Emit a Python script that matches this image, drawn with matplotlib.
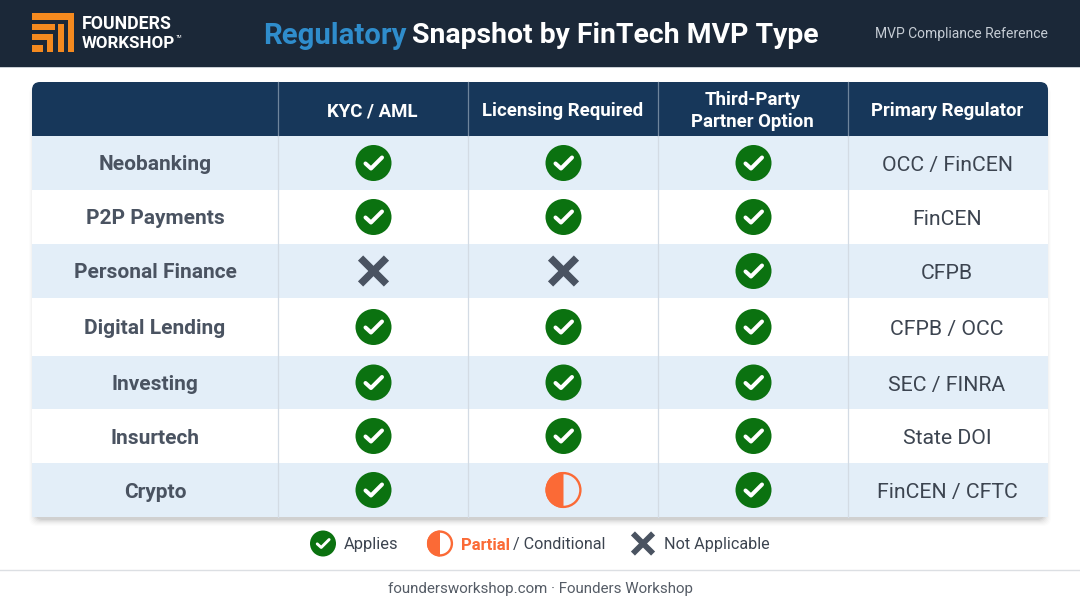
import matplotlib
matplotlib.use("Agg")
import matplotlib.pyplot as plt
from matplotlib.patches import Rectangle, FancyBboxPatch, Circle, Wedge
from matplotlib.lines import Line2D

plt.rcParams['font.family'] = ['Roboto', 'DejaVu Sans']

# ---- data ----
columns = ["KYC / AML", "Licensing Required", "Third-Party\nPartner Option", "Primary Regulator"]
categories = ["Neobanking", "P2P Payments", "Personal Finance", "Digital Lending", "Investing", "Insurtech", "Crypto"]
kyc_status = ["yes", "yes", "no", "yes", "yes", "yes", "yes"]
licensing_status = ["yes", "yes", "no", "yes", "yes", "yes", "partial"]
partner_status = ["yes", "yes", "yes", "yes", "yes", "yes", "yes"]
regulators = ["OCC / FinCEN", "FinCEN", "CFPB", "CFPB / OCC", "SEC / FINRA", "State DOI", "FinCEN / CFTC"]

# ---- layout ----
W, H = 1080, 603
col_edges = [32, 278, 468, 658, 848, 1048]
row_edges = [136, 190, 244, 298, 356, 409, 463, 517]
head_top = 82

NAVY = "#1b2838"
HEAD = "#17375a"
BAND = "#e3eef8"
GREEN = "#0b7210"
ORANGE = "#fb6a36"
GREY = "#4a5361"
LABEL = "#4a5361"
TEXT = "#3c4450"
ORG_LOGO = "#f58a1f"

fig = plt.figure(figsize=(W / 100, H / 100), dpi=100, facecolor="white")
ax = fig.add_axes([0, 0, 1, 1])
ax.set_xlim(0, W)
ax.set_ylim(H, 0)
ax.axis("off")


def rect(x0, y0, x1, y1, color, z=1, **kw):
    ax.add_patch(Rectangle((x0, y0), x1 - x0, y1 - y0, facecolor=color, edgecolor="none", zorder=z, **kw))


def check(cx, cy, r):
    ax.add_patch(Circle((cx, cy), r, facecolor=GREEN, edgecolor="none", zorder=5))
    s = r / 18
    ax.add_line(Line2D([cx - 8 * s, cx - 2.5 * s, cx + 8.5 * s], [cy + 0.5 * s, cy + 5.5 * s, cy - 5.5 * s],
                       color="white", lw=2.9 * s, solid_capstyle="round", solid_joinstyle="round", zorder=6))


def partial(cx, cy, r):
    ax.add_patch(Circle((cx, cy), r - 1.1, facecolor="none", edgecolor=ORANGE, lw=1.7, zorder=5))
    ax.add_patch(Wedge((cx, cy), r, 90, 270, facecolor=ORANGE, edgecolor="none", zorder=5))


def cross(cx, cy, r):
    d = r * 0.72
    for sgn in (1, -1):
        ax.add_line(Line2D([cx - d, cx + d], [cy - sgn * d, cy + sgn * d], color=GREY, lw=4.6 * r / 18 * 1.15,
                           solid_capstyle="butt", zorder=5))


MARK = {"yes": check, "partial": partial, "no": cross}

# ---- top banner ----
rect(0, 0, W, 67, NAVY, z=1)
rect(0, 67, W, 68, "#c9ced4", z=1)

# logo
logo = [(32, 13, 74, 20), (32, 24, 55, 30), (32, 34, 49, 40), (32, 45, 43, 52),
        (58, 24, 64, 52), (68, 19, 74, 52), (49, 24, 55, 30),
        (47, 34, 53, 52)]
for x0, y0, x1, y1 in logo:
    rect(x0, y0, x1, y1, ORG_LOGO, z=2)
ax.text(82, 24, "FOUNDERS", color="white", fontsize=12.8, fontweight="bold", va="center", ha="left", zorder=3)
ax.text(82, 44, "WORKSHOP", color="white", fontsize=12.2, fontweight="bold", va="center", ha="left", zorder=3)
ax.text(176, 37, "TM", color="white", fontsize=3.2, va="center", ha="left", zorder=3)

ax.text(263, 35.5, "Regulatory", color="#2f8dcc", fontsize=21.2, fontweight="bold", va="center", ha="left", zorder=3)
ax.text(412, 35.5, "Snapshot by FinTech MVP Type", color="white", fontsize=20.4, fontweight="bold", va="center", ha="left", zorder=3)
ax.text(961, 34, "MVP Compliance Reference", color="#c5ccd4", fontsize=10, va="center", ha="center", zorder=3)

# ---- shadow ----
for i, a in zip(range(7, 0, -1), [0.012, 0.016, 0.02, 0.025, 0.03, 0.04, 0.05]):
    ax.add_patch(FancyBboxPatch((col_edges[0] - i + 4, head_top + 4), col_edges[-1] - col_edges[0] + 2 * i - 8,
                                row_edges[-1] - head_top + i - 2,
                                boxstyle="round,pad=0,rounding_size=8", facecolor="black", edgecolor="none",
                                alpha=a, zorder=1))

# ---- table body ----
x0, x1 = col_edges[0], col_edges[-1]
for i in range(len(categories)):
    rect(x0, row_edges[i], x1, row_edges[i + 1], BAND if i % 2 == 0 else "white", z=2)

# header
ax.add_patch(FancyBboxPatch((x0, head_top), x1 - x0, 30, boxstyle="round,pad=0,rounding_size=8",
                            facecolor=HEAD, edgecolor="none", zorder=3))
rect(x0, head_top + 12, x1, row_edges[0], HEAD, z=3)

# grid
for x in col_edges[1:-1]:
    ax.add_line(Line2D([x, x], [head_top, row_edges[0]], color="#6f859c", lw=0.9, zorder=4))
    ax.add_line(Line2D([x, x], [row_edges[0], row_edges[-1]], color="#d3dbe4", lw=0.9, zorder=4))

# header text
centers = [(col_edges[i] + col_edges[i + 1]) / 2 for i in range(len(col_edges) - 1)]
for j, label in enumerate(columns):
    ax.text(centers[j + 1] - 0.5, (head_top + row_edges[0]) / 2 + 2, label, color="white", fontsize=13.4, fontweight="bold",
            ha="center", va="center", zorder=5, linespacing=1.3)

# rows
status_columns = [kyc_status, licensing_status, partner_status]
for i, cat in enumerate(categories):
    cy = (row_edges[i] + row_edges[i + 1]) / 2
    ax.text(centers[0], cy + 2, cat, color=LABEL, fontsize=15, fontweight="bold", ha="center", va="center", zorder=5)
    for j, st in enumerate(status_columns):
        MARK[st[i]](centers[j + 1] + 0.5, cy, 18)
    ax.text(centers[4] - 1, cy + 2.5, regulators[i], color=TEXT, fontsize=15.3, ha="center", va="center", zorder=5)

# ---- legend ----
ly = 543.5
check(323, ly, 13)
ax.text(344, ly + 1.5, "Applies", color=TEXT, fontsize=11.9, va="center", ha="left")
partial(440, ly, 13)
ax.text(461, ly + 1.5, "Partial", color=ORANGE, fontsize=12, fontweight="bold", va="center", ha="left")
ax.text(513, ly + 1.5, "/ Conditional", color=TEXT, fontsize=11.6, va="center", ha="left")
cross(643, ly, 14)
ax.text(664, ly + 1.5, "Not Applicable", color=TEXT, fontsize=11.6, va="center", ha="left")

# ---- footer ----
ax.add_line(Line2D([0, W], [570, 570], color="#dcdfe3", lw=1, zorder=1))
ax.text(540, 589, "foundersworkshop.com · Founders Workshop", color="#555c66", fontsize=10.9, ha="center", va="center")

fig.savefig("out.png", dpi=100, facecolor="white")
